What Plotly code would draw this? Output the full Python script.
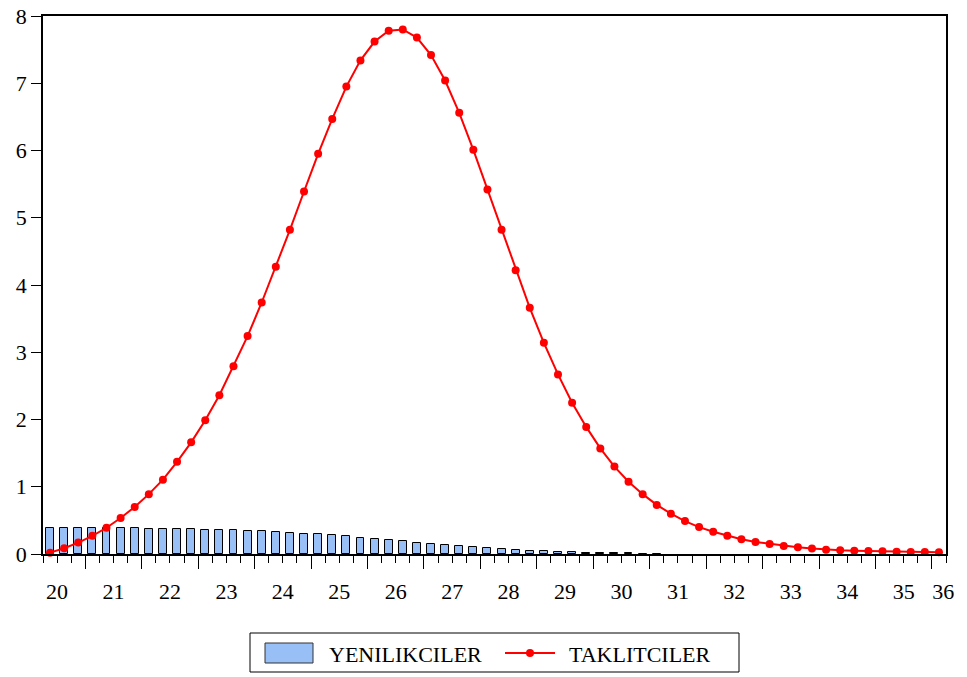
import plotly.graph_objects as go

# Quarterly periods: 2020Q2 .. 2036Q1 (axis shows two-digit years)
years = [20] * 3 + [y for y in range(21, 36) for _ in range(4)] + [36]
quarters = [2, 3, 4] + [q for _ in range(21, 36) for q in (1, 2, 3, 4)] + [1]

# Innovators (bars)
yenilikciler = [
    0.392, 0.392, 0.392, 0.387, 0.387, 0.382, 0.382, 0.377, 0.377, 0.372,
    0.367, 0.362, 0.357, 0.352, 0.347, 0.337, 0.327, 0.317, 0.302, 0.292,
    0.278, 0.263, 0.245, 0.223, 0.208, 0.188, 0.164, 0.149, 0.129, 0.114,
    0.099, 0.084, 0.069, 0.059, 0.050, 0.040, 0.035, 0.025, 0.020, 0.015,
    0.012, 0.010, 0.007, 0.005, 0.0, 0.0, 0.0, 0.0, 0.0, 0.0,
    0.0, 0.0, 0.0, 0.0, 0.0, 0.0, 0.0, 0.0, 0.0, 0.0,
    0.0, 0.0, 0.0, 0.0,
]

# Imitators (line with markers)
taklitciler = [
    0.02, 0.085, 0.17, 0.27, 0.39, 0.535, 0.70, 0.89, 1.105, 1.37,
    1.66, 1.99, 2.36, 2.79, 3.24, 3.74, 4.27, 4.82, 5.39, 5.95,
    6.47, 6.95, 7.34, 7.62, 7.78, 7.80, 7.68, 7.42, 7.04, 6.56,
    6.01, 5.42, 4.82, 4.22, 3.66, 3.14, 2.67, 2.25, 1.89, 1.57,
    1.30, 1.075, 0.89, 0.73, 0.60, 0.49, 0.40, 0.33, 0.27, 0.22,
    0.18, 0.15, 0.12, 0.10, 0.08, 0.065, 0.055, 0.05, 0.045, 0.04,
    0.035, 0.03, 0.03, 0.025,
]

year_labels = [str(y) for y in range(20, 37)]

# position of each quarter at the centre of its slot on the time axis
x = [y + (q - 1) * 0.25 + 0.125 for y, q in zip(years, quarters)]
x_start = years[0] + (quarters[0] - 1) * 0.25
x_end = years[-1] + quarters[-1] * 0.25

FONT = "'Liberation Serif', 'Times New Roman', Times, serif"
BAR_FILL = "#98c0f6"
RED = "#ff0000"

# near-zero bars lose their outline so they fade into the axis
bar_edges = ["#000000" if v > 0 else "rgba(0,0,0,0)" for v in yenilikciler]

fig = go.Figure()

fig.add_trace(go.Bar(
    x=x, y=yenilikciler, name="YENILIKCILER",
    width=0.14,
    marker=dict(color=BAR_FILL, line=dict(color=bar_edges, width=1)),
    showlegend=False,
))

fig.add_trace(go.Scatter(
    x=x, y=taklitciler, name="TAKLITCILER", mode="lines+markers",
    line=dict(color=RED, width=2),
    marker=dict(color=RED, size=8),
    showlegend=False, cliponaxis=False,
))

# invisible trace carrying the year-label axis
fig.add_trace(go.Scatter(
    x=[x_start, x_end], y=[0, 0], xaxis="x2", mode="markers",
    marker=dict(opacity=0), hoverinfo="skip", showlegend=False,
))

# year labels sit mid-year; the last one is pulled inside the frame
label_pos = [int(v) + 0.5 for v in year_labels[:-1]] + [x_end - 0.05]

fig.update_layout(
    width=967, height=677, autosize=False,
    margin=dict(l=43, r=21, t=16, b=123, autoexpand=False),
    paper_bgcolor="white", plot_bgcolor="white",
    font=dict(family=FONT, size=22, color="#000000"),
    bargap=0,
    xaxis=dict(
        range=[x_start, x_end], automargin=False,
        showline=True, linecolor="#000000", linewidth=1.5, mirror=True,
        showgrid=False, zeroline=False,
        tickmode="array", tickvals=list(range(21, 37)),
        ticks="outside", ticklen=13, tickwidth=1, tickcolor="#000000",
        showticklabels=False,
        minor=dict(
            tickmode="array",
            tickvals=[x_start + 0.25 * k for k in range(len(x) + 1)],
            ticks="outside", ticklen=7, tickwidth=1, tickcolor="#000000",
            showgrid=False,
        ),
    ),
    xaxis2=dict(
        overlaying="x", side="bottom", range=[x_start, x_end], automargin=False,
        showline=False, showgrid=False, zeroline=False,
        tickmode="array", tickvals=label_pos, ticktext=year_labels,
        ticks="outside", ticklen=18, tickcolor="rgba(0,0,0,0)",
        tickfont=dict(family=FONT, size=22, color="#000000"),
    ),
    yaxis=dict(
        range=[0, 8], tickmode="linear", tick0=0, dtick=1, automargin=False,
        showline=True, linecolor="#000000", linewidth=1.5, mirror=True,
        showgrid=False, zeroline=False,
        ticks="outside", ticklen=10, tickwidth=1, tickcolor="#000000",
        tickfont=dict(family=FONT, size=22, color="#000000"),
    ),
)

# legend box drawn below the plot frame
def px_x(p):
    return (p - 43) / 903


def px_y(p):
    return (554 - p) / 538


shapes = [
    dict(type="rect", xref="paper", yref="paper",
         x0=px_x(250), x1=px_x(739), y0=px_y(672), y1=px_y(633),
         line=dict(color="#000000", width=1), fillcolor="white"),
    dict(type="rect", xref="paper", yref="paper",
         x0=px_x(265), x1=px_x(313), y0=px_y(663), y1=px_y(643),
         line=dict(color="#333333", width=1), fillcolor=BAR_FILL),
    dict(type="line", xref="paper", yref="paper",
         x0=px_x(505), x1=px_x(555), y0=px_y(653), y1=px_y(653),
         line=dict(color=RED, width=2)),
    dict(type="circle", xref="paper", yref="paper",
         xsizemode="pixel", ysizemode="pixel",
         xanchor=px_x(530), yanchor=px_y(653),
         x0=-4, x1=4, y0=-4, y1=4,
         line=dict(color=RED, width=0), fillcolor=RED),
]
fig.update_layout(shapes=shapes)

for name, left in (("YENILIKCILER", 327), ("TAKLITCILER", 567)):
    fig.add_annotation(
        text=name, xref="paper", yref="paper",
        x=px_x(left), y=px_y(654), xanchor="left", yanchor="middle",
        showarrow=False, font=dict(family=FONT, size=22, color="#000000"),
    )

fig.write_html("out.html")
